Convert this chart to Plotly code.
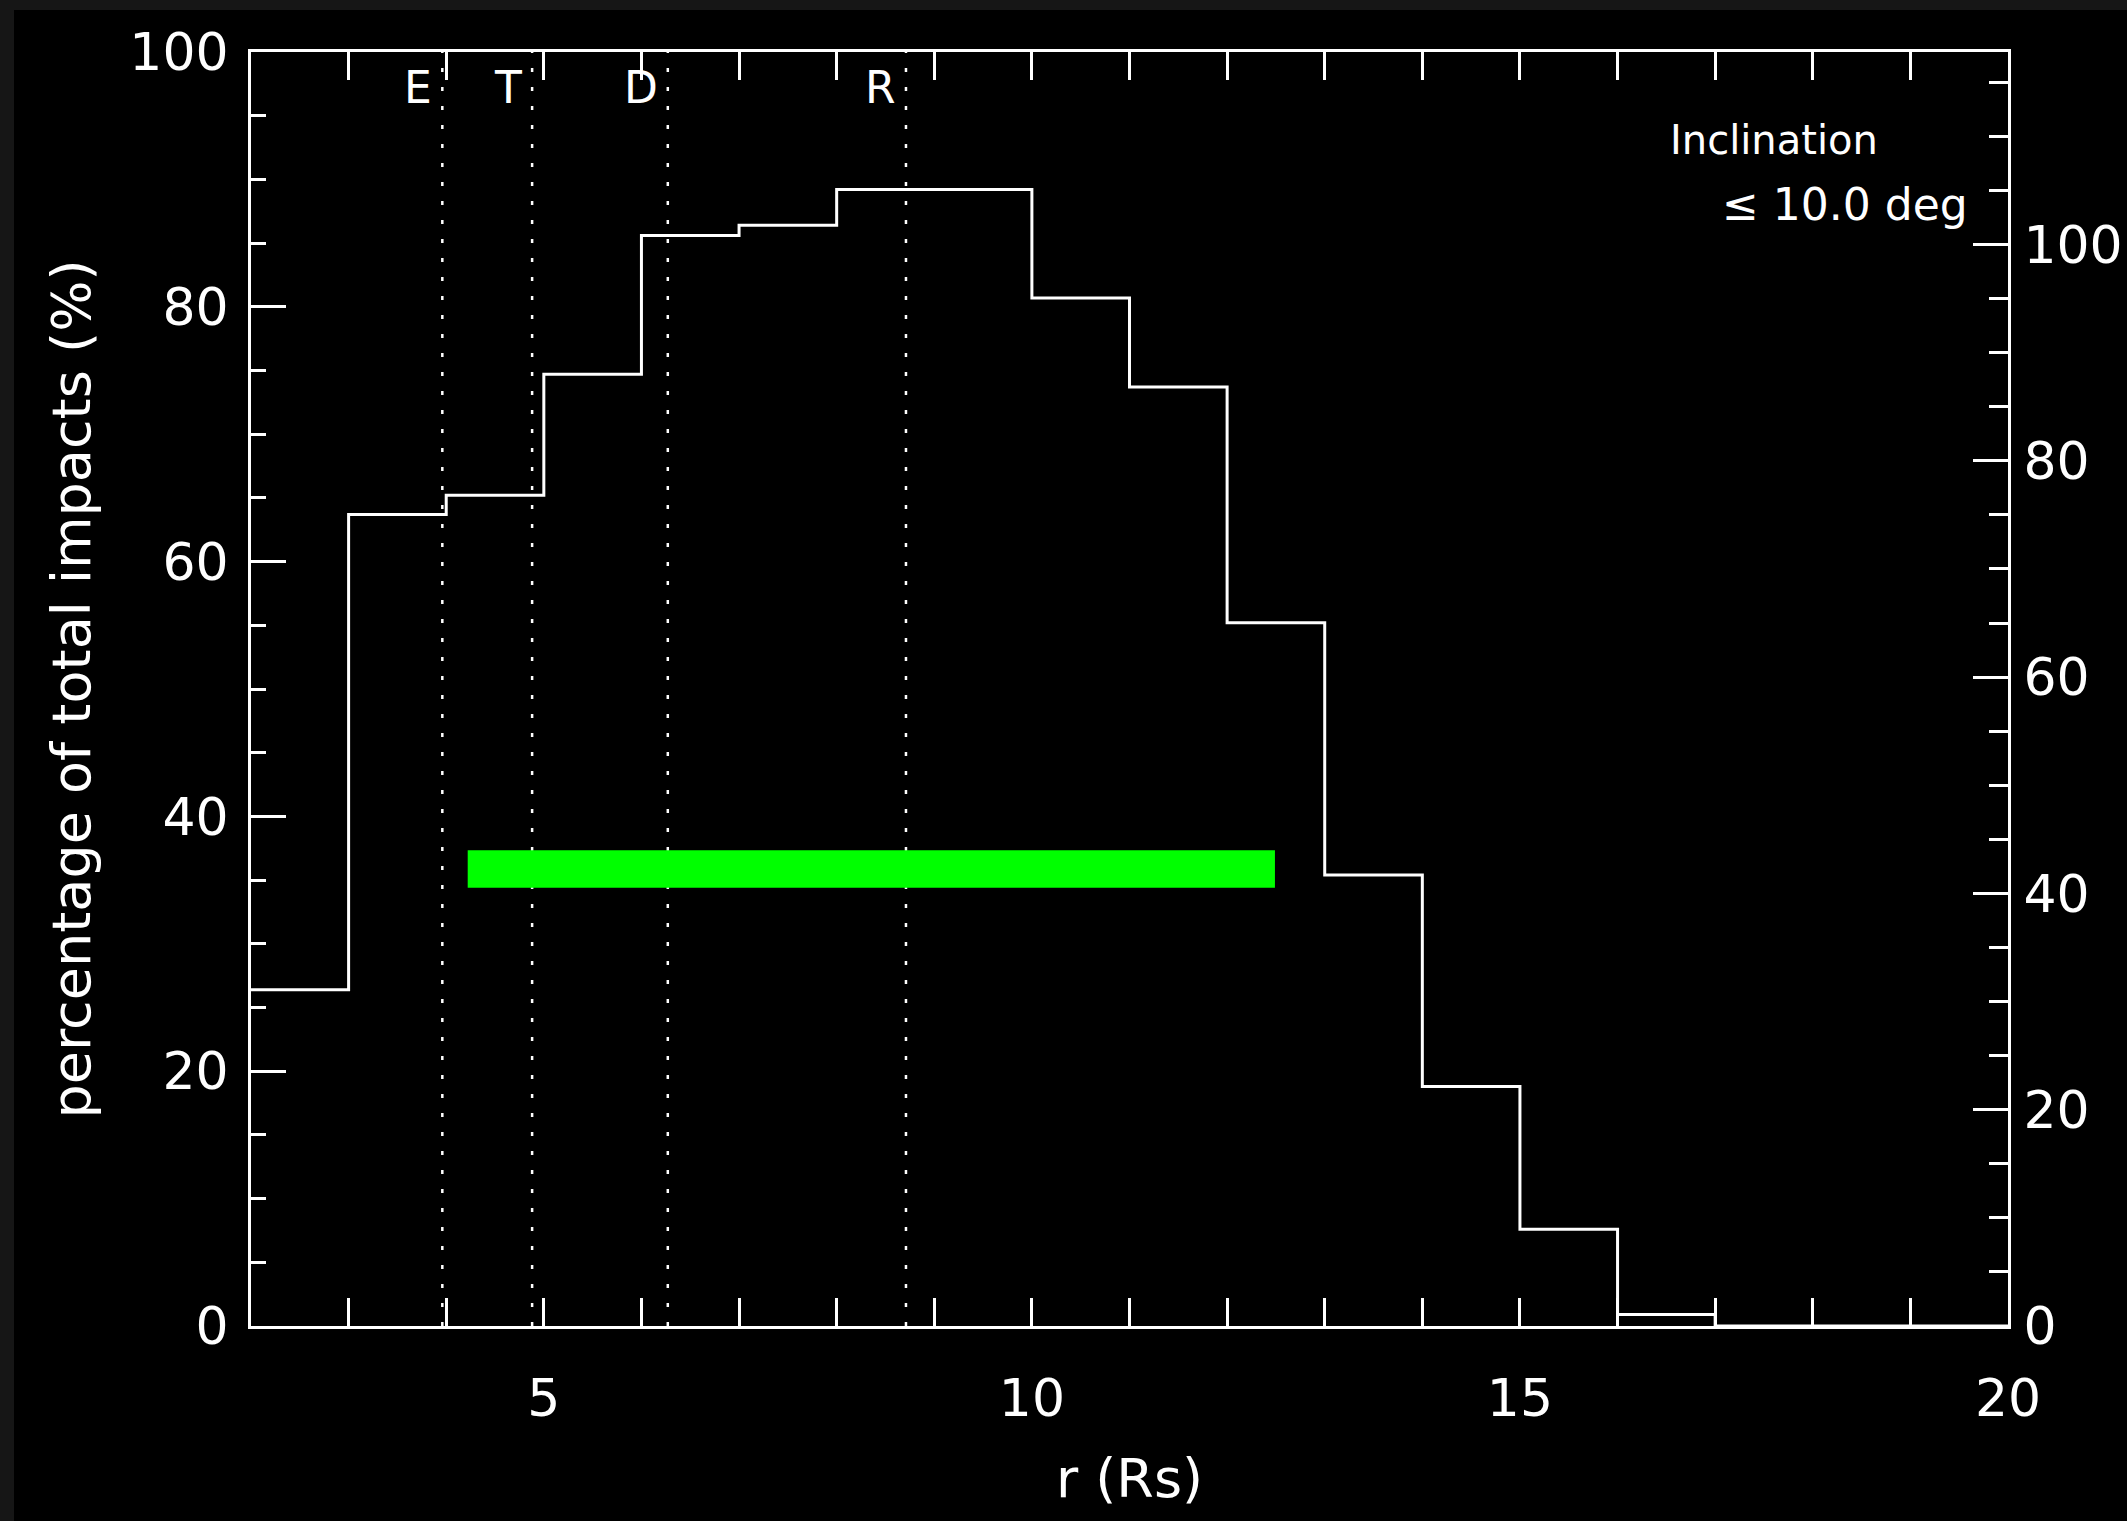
import plotly.graph_objects as go

# ---------------- data ----------------
bin_edges = list(range(2, 21))  # r (Rs) bin edges 2..20
pct_values = [26.4, 63.7, 65.2, 74.7, 85.6, 86.4, 89.2, 89.2, 80.7, 73.7,
              55.2, 35.4, 18.8, 7.6, 0.9, 0.0, 0.0, 0.0]

marker_names = ["E", "T", "D", "R"]
marker_r = [3.96, 4.88, 6.27, 8.71]
marker_label_pct = 97.2

band_r = [4.22, 12.49]
band_pct = [34.4, 37.35]

x_ticks = [5, 10, 15, 20]
y_ticks = [0, 20, 40, 60, 80, 100]
y2_ticks = [0, 20, 40, 60, 80, 100]

legend_line1 = "Inclination"
legend_line2 = "≤ 10.0 deg"

FONT = "DejaVu Sans"
W, H = 2127, 1521
L, R, T, B = 251, 119, 52, 195

fig = go.Figure()

# histogram (step)
hx = bin_edges[:-1] + [bin_edges[-1]]
hy = pct_values + [pct_values[-1]]
fig.add_trace(go.Scatter(x=hx, y=hy, mode="lines", line=dict(color="white", width=3, shape="hv"),
                         hoverinfo="skip", showlegend=False))

# dotted vertical lines
dx, dy = [], []
for r in marker_r:
    dx += [r, r, None]
    dy += [0, 100, None]
fig.add_trace(go.Scatter(x=dx, y=dy, mode="lines",
                         line=dict(color="white", width=2.5, dash="4px,15px"),
                         hoverinfo="skip", showlegend=False))

# green band
fig.add_trace(go.Scatter(x=[band_r[0], band_r[1], band_r[1], band_r[0], band_r[0]],
                         y=[band_pct[0], band_pct[0], band_pct[1], band_pct[1], band_pct[0]],
                         mode="lines", fill="toself", fillcolor="#00ff00",
                         line=dict(color="#00ff00", width=0), hoverinfo="skip", showlegend=False))

# invisible trace on right axis
fig.add_trace(go.Scatter(x=[2], y=[0], yaxis="y2", mode="markers", marker=dict(opacity=0),
                         hoverinfo="skip", showlegend=False))

annotations = []
for name, r in zip(marker_names, marker_r):
    annotations.append(dict(x=r, y=marker_label_pct, xref="x", yref="y", text=name,
                            showarrow=False, xanchor="right", yanchor="middle", xshift=-8,
                            font=dict(family=FONT, size=44, color="white")))
annotations.append(dict(x=17.6, y=93.1, xref="x", yref="y", text=legend_line1, showarrow=False,
                        xanchor="center", yanchor="middle",
                        font=dict(family=FONT, size=40, color="white")))
annotations.append(dict(x=18.33, y=88.0, xref="x", yref="y", text=legend_line2, showarrow=False,
                        xanchor="center", yanchor="middle",
                        font=dict(family=FONT, size=44, color="white")))

axis_common = dict(showline=True, linecolor="white", linewidth=3, ticks="inside",
                   tickcolor="white", tickwidth=3, showgrid=False, zeroline=False,
                   automargin=False,
                   tickfont=dict(family=FONT, size=52, color="white"))

fig.update_layout(
    width=W, height=H, autosize=False,
    margin=dict(l=L, r=R, t=T, b=B, pad=0),
    paper_bgcolor="#161616", plot_bgcolor="black",
    font=dict(family=FONT, color="white"),
    showlegend=False,
    xaxis=dict(**axis_common, range=[2, 20], tickvals=x_ticks, ticklen=28, mirror="allticks",
               ticklabelstandoff=25,
               minor=dict(dtick=1, tick0=0, ticks="inside", ticklen=13, tickcolor="white", tickwidth=3),
               title=dict(text="r (Rs)", font=dict(family=FONT, size=54, color="white"), standoff=32)),
    yaxis=dict(**axis_common, range=[0, 100], tickvals=y_ticks, ticklen=35, mirror=False,
               ticklabelstandoff=9,
               minor=dict(dtick=5, tick0=0, ticks="inside", ticklen=15, tickcolor="white", tickwidth=3),
               title=dict(text="percentage of total impacts (%)",
                          font=dict(family=FONT, size=54, color="white"), standoff=22)),
    yaxis2=dict(**axis_common, range=[0, 117.8], tickvals=y2_ticks, ticklen=35, overlaying="y",
                side="right", anchor="x", ticklabelstandoff=2,
                minor=dict(dtick=5, tick0=0, ticks="inside", ticklen=19, tickcolor="white", tickwidth=3)),
    annotations=annotations,
    shapes=[dict(type="rect", xref="paper", yref="paper",
                 x0=(14 - L) / (W - L - R), x1=(W - L) / (W - L - R),
                 y0=(H - T - B - (H - T)) / (H - T - B), y1=(H - B - 10) / (H - T - B),
                 fillcolor="black", line=dict(width=0), layer="below")],
)

fig.write_html("out.html")
